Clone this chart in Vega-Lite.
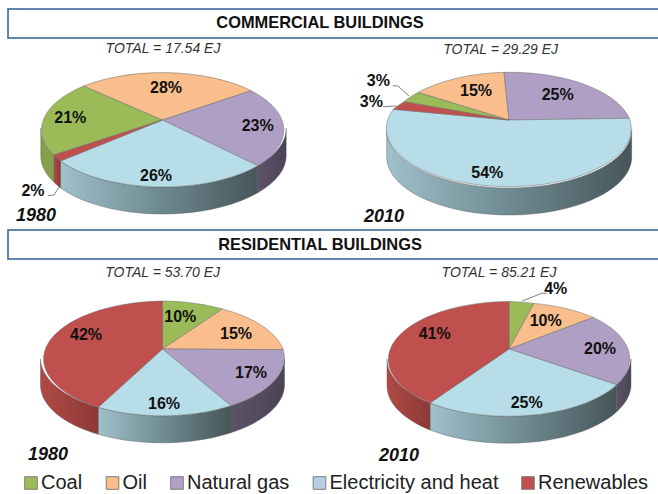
{"$schema":"https://vega.github.io/schema/vega-lite/v6.json","width":658,"height":494,"padding":0,"autosize":{"type":"none"},"background":"white","config":{"view":{"stroke":null}},
"params":[
{"name":"offX","value":{"C80 Oil":3.5,"C80 Coal":-92.2,"C80 Natural gas":95.2,"C80 Electricity and heat":-6.5,"C80 Renewables":-129.5,"C10 Oil":-33,"C10 Natural gas":48.7,"C10 Electricity and heat":-21.7,"C10 Coal":-130.7,"C10 Renewables":-137.7,"R80 Coal":17.8,"R80 Oil":73.5,"R80 Natural gas":88.5,"R80 Electricity and heat":1.5,"R80 Renewables":-76.5,"R10 Coal":46.7,"R10 Oil":36.7,"R10 Natural gas":91,"R10 Electricity and heat":17.7,"R10 Renewables":-74.3,"C80 total":0.5,"C10 total":-8.3,"R80 total":0.2,"R10 total":-10,"C80 year":-126.5,"C10 year":-125,"R80 year":-114.5,"R10 year":-110,"C head":157.5,"R head":157.5}},
{"name":"offY","value":{"C80 Oil":-32,"C80 Coal":-1.7,"C80 Natural gas":6,"C80 Electricity and heat":55.7,"C80 Renewables":70.7,"C10 Oil":-29.3,"C10 Natural gas":-25,"C10 Electricity and heat":53.3,"C10 Coal":-39,"C10 Renewables":-18.3,"R80 Coal":-31.7,"R80 Oil":-15,"R80 Natural gas":24.3,"R80 Electricity and heat":55,"R80 Renewables":-14,"R10 Coal":-60,"R10 Oil":-27.7,"R10 Natural gas":0.3,"R10 Electricity and heat":53.7,"R10 Renewables":-15,"C80 total":-71,"C10 total":-70,"R80 total":-76,"R10 total":-76,"C80 year":96,"C10 year":97,"R80 year":106,"R10 year":107,"C head":-97,"R head":-104}}
],
"datasets":{
"rows":[
{"building":"Commercial","year":"1980","fuel":"Coal","share":0.21,"key":"C80 Coal"},
{"building":"Commercial","year":"1980","fuel":"Oil","share":0.28,"key":"C80 Oil"},
{"building":"Commercial","year":"1980","fuel":"Natural gas","share":0.23,"key":"C80 Natural gas"},
{"building":"Commercial","year":"1980","fuel":"Electricity and heat","share":0.26,"key":"C80 Electricity and heat"},
{"building":"Commercial","year":"1980","fuel":"Renewables","share":0.02,"key":"C80 Renewables"},
{"building":"Commercial","year":"2010","fuel":"Coal","share":0.03,"key":"C10 Coal"},
{"building":"Commercial","year":"2010","fuel":"Oil","share":0.15,"key":"C10 Oil"},
{"building":"Commercial","year":"2010","fuel":"Natural gas","share":0.25,"key":"C10 Natural gas"},
{"building":"Commercial","year":"2010","fuel":"Electricity and heat","share":0.54,"key":"C10 Electricity and heat"},
{"building":"Commercial","year":"2010","fuel":"Renewables","share":0.03,"key":"C10 Renewables"},
{"building":"Residential","year":"1980","fuel":"Coal","share":0.10,"key":"R80 Coal"},
{"building":"Residential","year":"1980","fuel":"Oil","share":0.15,"key":"R80 Oil"},
{"building":"Residential","year":"1980","fuel":"Natural gas","share":0.17,"key":"R80 Natural gas"},
{"building":"Residential","year":"1980","fuel":"Electricity and heat","share":0.16,"key":"R80 Electricity and heat"},
{"building":"Residential","year":"1980","fuel":"Renewables","share":0.42,"key":"R80 Renewables"},
{"building":"Residential","year":"2010","fuel":"Coal","share":0.04,"key":"R10 Coal"},
{"building":"Residential","year":"2010","fuel":"Oil","share":0.10,"key":"R10 Oil"},
{"building":"Residential","year":"2010","fuel":"Natural gas","share":0.20,"key":"R10 Natural gas"},
{"building":"Residential","year":"2010","fuel":"Electricity and heat","share":0.25,"key":"R10 Electricity and heat"},
{"building":"Residential","year":"2010","fuel":"Renewables","share":0.41,"key":"R10 Renewables"}
],
"notes":[
{"building":"Commercial","year":"1980","kind":"total","key":"C80 total","text":"TOTAL = 17.54 EJ"},
{"building":"Commercial","year":"2010","kind":"total","key":"C10 total","text":"TOTAL = 29.29 EJ"},
{"building":"Residential","year":"1980","kind":"total","key":"R80 total","text":"TOTAL = 53.70 EJ"},
{"building":"Residential","year":"2010","kind":"total","key":"R10 total","text":"TOTAL = 85.21 EJ"},
{"building":"Commercial","year":"1980","kind":"year","key":"C80 year","text":"1980"},
{"building":"Commercial","year":"2010","kind":"year","key":"C10 year","text":"2010"},
{"building":"Residential","year":"1980","kind":"year","key":"R80 year","text":"1980"},
{"building":"Residential","year":"2010","kind":"year","key":"R10 year","text":"2010"},
{"building":"Commercial","year":"1980","kind":"head","key":"C head","text":"COMMERCIAL BUILDINGS"},
{"building":"Residential","year":"1980","kind":"head","key":"R head","text":"RESIDENTIAL BUILDINGS"}
]},
"data":{"name":"rows"},
"encoding":{
"x":{"field":"year","type":"nominal","axis":null,"scale":{"type":"point","domain":["1980","2010"],"range":[162.5,509],"padding":0}},
"y":{"field":"building","type":"nominal","axis":null,"scale":{"type":"point","domain":["Commercial","Residential"],"range":[120,349],"padding":0}}
},
"resolve":{"scale":{"shape":"independent","color":"independent","fill":"independent"},"legend":{"color":"independent","fill":"independent"}},
"layer":[
{"transform":[{"filter":"datum.key==='C80 Coal'||datum.key==='C80 Oil'||datum.key==='C80 Natural gas'||datum.key==='C80 Electricity and heat'||datum.key==='C80 Renewables'"}],
"mark":{"type":"square","size":1,"opacity":1},
"encoding":{"color":{"field":"fuel","type":"nominal","scale":{"domain":["Coal","Oil","Natural gas","Electricity and heat","Renewables"],"range":["#9bbb59","#f9be8c","#b2a1c7","#b9cde5","#c0504d"]},
"legend":{"title":null,"orient":"none","legendX":21,"legendY":473,"direction":"horizontal","columns":5,"columnPadding":19.5,"symbolType":"square","symbolSize":160,"symbolStrokeColor":"#7f7f7f","symbolStrokeWidth":1,"symbolOpacity":1,"labelFont":"Liberation Sans","labelFontSize":20,"labelColor":"#222222","labelOffset":0,"labelLimit":300,"padding":0}}}},
{"data":{"name":"notes"},"transform":[{"filter":"datum.kind==='head'"}],
"mark":{"type":"point","filled":true,"opacity":1,"size":4,"color":"white","stroke":"#2f5f96","strokeWidth":1.5},
"encoding":{"shape":{"field":"key","type":"nominal","legend":null,"scale":{"domain":["C head","R head"],"range":["M-154.5,-111L507.5,-111L507.5,-82L-154.5,-82Z","M-154.5,-119L507.5,-119L507.5,-90L-154.5,-90Z"]}}}},
{"transform":[{"filter":{"field":"key","oneOf":["C80 Natural gas","R80 Natural gas","R10 Natural gas"]}}],
"mark":{"type":"point","filled":true,"opacity":1,"size":4,"stroke":"#555","strokeWidth":0.4,"color":{"gradient":"linear","x1":0,"x2":1,"y1":0,"y2":0,"stops":[{"offset":0,"color":"#5d5369"},{"offset":1,"color":"#4b4356"}]}},
"encoding":{"shape":{"field":"key","type":"nominal","legend":null,"scale":{"domain":["C80 Natural gas","R80 Natural gas","R10 Natural gas"],"range":["M123.7,8A122.7,58,0,0,1,95.3,45.7L95.3,72.7A122.7,58,0,0,0,123.7,35Z","M122,10A122.2,58,0,0,1,68.4,56.7L68.4,83.7A122.2,58,0,0,0,122,37Z","M122,10A122.2,58,0,0,1,107.7,35.7L107.7,62.7A122.2,58,0,0,0,122,37Z"]}}}},
{"transform":[{"filter":{"field":"key","oneOf":["C80 Electricity and heat","C10 Electricity and heat","R80 Electricity and heat","R10 Electricity and heat"]}}],
"mark":{"type":"point","filled":true,"opacity":1,"size":4,"stroke":"#555","strokeWidth":0.4,"color":{"gradient":"linear","x1":0,"x2":1,"y1":0,"y2":0,"stops":[{"offset":0,"color":"#a0c0ca"},{"offset":0.5,"color":"#6f8a92"},{"offset":1,"color":"#465659"}]}},
"encoding":{"shape":{"field":"key","type":"nominal","legend":null,"scale":{"domain":["C80 Electricity and heat","C10 Electricity and heat","R80 Electricity and heat","R10 Electricity and heat"],"range":["M95.3,45.7A122.7,58,0,0,1,-102,41L-102,68A122.7,58,0,0,0,95.3,72.7Z","M122.7,10A122.5,58,0,0,1,-122.3,10L-122.3,37A122.5,58,0,0,0,122.7,37Z","M68.4,56.7A122.2,58,0,0,1,-64.3,58.3L-64.3,85.3A122.2,58,0,0,0,68.4,83.7Z","M107.7,35.7A122.2,58,0,0,1,-79,54L-79,81A122.2,58,0,0,0,107.7,62.7Z"]}}}},
{"transform":[{"filter":{"field":"key","oneOf":["C80 Renewables","R80 Renewables","R10 Renewables"]}}],
"mark":{"type":"point","filled":true,"opacity":1,"size":4,"stroke":"#555","strokeWidth":0.4,"color":{"gradient":"linear","x1":0,"x2":1,"y1":0,"y2":0,"stops":[{"offset":0,"color":"#b04a46"},{"offset":1,"color":"#8c3936"}]}},
"encoding":{"shape":{"field":"key","type":"nominal","legend":null,"scale":{"domain":["C80 Renewables","R80 Renewables","R10 Renewables"],"range":["M-102,41A122.7,58,0,0,1,-108.7,35L-108.7,62A122.7,58,0,0,0,-102,68Z","M-64.3,58.3A122.2,58,0,0,1,-122,10L-122,37A122.2,58,0,0,0,-64.3,85.3Z","M-79,54A122.2,58,0,0,1,-122,10L-122,37A122.2,58,0,0,0,-79,81Z"]}}}},
{"transform":[{"filter":{"field":"key","oneOf":["C80 Coal"]}}],
"mark":{"type":"point","filled":true,"opacity":1,"size":4,"stroke":"#555","strokeWidth":0.4,"color":"#83a04a"},
"encoding":{"shape":{"field":"key","type":"nominal","legend":null,"scale":{"domain":["C80 Coal"],"range":["M-108.7,35A122.7,58,0,0,1,-121.7,8L-121.7,35A122.7,58,0,0,0,-108.7,62Z"]}}}},
{"mark":{"type":"point","filled":true,"opacity":1,"size":4,"stroke":"#6b6b6b","strokeWidth":0.5},
"encoding":{
"fill":{"field":"fuel","type":"nominal","legend":null,"scale":{"domain":["Coal","Oil","Natural gas","Electricity and heat","Renewables"],"range":["#9bbb59","#f9be8c","#b09fc5","#b7dde8","#c0504d"]}},
"shape":{"field":"key","type":"nominal","legend":null,"scale":{"domain":["C80 Coal","C80 Oil","C80 Natural gas","C80 Electricity and heat","C80 Renewables","C10 Coal","C10 Oil","C10 Natural gas","C10 Electricity and heat","C10 Renewables","R80 Coal","R80 Oil","R80 Natural gas","R80 Electricity and heat","R80 Renewables","R10 Coal","R10 Oil","R10 Natural gas","R10 Electricity and heat","R10 Renewables"],
"range":[
"M0,0L-108.7,35A122.7,58,0,0,1,-78.7,-34Z","M0,0L-78.7,-34A122.7,58,0,0,1,88.7,-29.3Z","M0,0L88.7,-29.3A122.7,58,0,0,1,95.3,45.7Z","M0,0L95.3,45.7A122.7,58,0,0,1,-102,41Z","M0,0L-102,41A122.7,58,0,0,1,-108.7,35Z",
"M0,0L-105,-18.3A122.5,58,0,0,1,-90.7,-27.7Z","M0,0L-90.7,-27.7A122.5,58,0,0,1,-5,-47.7Z","M0,0L-5,-47.7A122.5,58,0,0,1,120.3,-1.7Z","M0,0L120.3,-1.7A122.5,58,0,1,1,-115.7,-10.7Z","M0,0L-115.7,-10.7A122.5,58,0,0,1,-105,-18.3Z",
"M0,0L0,-48A122.2,58,0,0,1,60,-40Z","M0,0L60,-40A122.2,58,0,0,1,120.7,0.7Z","M0,0L120.7,0.7A122.2,58,0,0,1,68.4,56.7Z","M0,0L68.4,56.7A122.2,58,0,0,1,-64.3,58.3Z","M0,0L-64.3,58.3A122.2,58,0,0,1,0,-48Z",
"M0,0L0,-47.6A122.2,58,0,0,1,25,-45.6Z","M0,0L25,-45.6A122.2,58,0,0,1,84.3,-31.6Z","M0,0L84.3,-31.6A122.2,58,0,0,1,107.7,35.7Z","M0,0L107.7,35.7A122.2,58,0,0,1,-79,54Z","M0,0L-79,54A122.2,58,0,0,1,0,-47.6Z"]}}}},
{"transform":[{"filter":{"field":"key","oneOf":["C80 Renewables","C10 Coal","C10 Renewables","R10 Coal"]}}],
"mark":{"type":"point","filled":false,"opacity":1,"size":4,"stroke":"#7f7f7f","strokeWidth":1},
"encoding":{"shape":{"field":"key","type":"nominal","legend":null,"scale":{"domain":["C80 Renewables","C10 Coal","C10 Renewables","R10 Coal"],"range":["M-114.5,75.7L-108.5,75L-103.5,67","M-116.3,-34.3L-111,-34L-100,-24","M-126,-13.3L-112.3,-14","M13.3,-48L32.7,-55.7L37.7,-55.7"]}}}},
{"mark":{"type":"text","font":"Liberation Sans","fontWeight":"bold","fontSize":16,"color":"#111111","align":"center","baseline":"middle","dx":{"expr":"offX[datum.key]"},"dy":{"expr":"offY[datum.key]"}},
"encoding":{"text":{"field":"share","type":"quantitative","format":".0%"}}},
{"data":{"name":"notes"},"transform":[{"filter":"datum.kind==='total'"}],
"mark":{"type":"text","font":"Liberation Sans","fontStyle":"italic","fontSize":14,"color":"#333333","align":"center","baseline":"middle","dx":{"expr":"offX[datum.key]"},"dy":{"expr":"offY[datum.key]"}},
"encoding":{"text":{"field":"text","type":"nominal"}}},
{"data":{"name":"notes"},"transform":[{"filter":"datum.kind==='year'"}],
"mark":{"type":"text","font":"Liberation Sans","fontStyle":"italic","fontWeight":"bold","fontSize":18,"color":"#111111","align":"center","baseline":"middle","dx":{"expr":"offX[datum.key]"},"dy":{"expr":"offY[datum.key]"}},
"encoding":{"text":{"field":"text","type":"nominal"}}},
{"data":{"name":"notes"},"transform":[{"filter":"datum.kind==='head'"}],
"mark":{"type":"text","font":"Liberation Sans","fontWeight":"bold","fontSize":16.4,"color":"#111111","align":"center","baseline":"middle","dx":{"expr":"offX[datum.key]"},"dy":{"expr":"offY[datum.key]"}},
"encoding":{"text":{"field":"text","type":"nominal"}}}
]}
